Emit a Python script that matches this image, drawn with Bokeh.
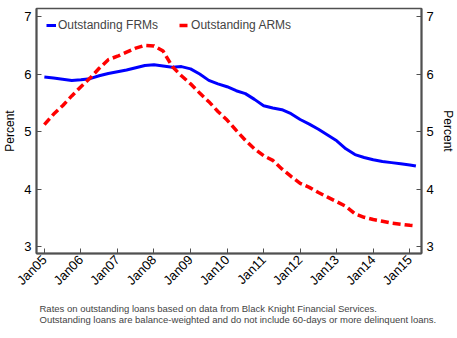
import math
from bokeh.plotting import figure
from bokeh.models import Range1d, LinearAxis, FixedTicker, Legend, LegendItem, Title
from bokeh.embed import file_html
from bokeh.resources import INLINE

# Quarterly observations (year-month)
dates = ["2005-01", "2005-04", "2005-07", "2005-10",
         "2006-01", "2006-04", "2006-07", "2006-10",
         "2007-01", "2007-04", "2007-07", "2007-10",
         "2008-01", "2008-04", "2008-07", "2008-10",
         "2009-01", "2009-04", "2009-07", "2009-10",
         "2010-01", "2010-04", "2010-07", "2010-10",
         "2011-01", "2011-04", "2011-07", "2011-10",
         "2012-01", "2012-04", "2012-07", "2012-10",
         "2013-01", "2013-04", "2013-07", "2013-10",
         "2014-01", "2014-04", "2014-07", "2014-10",
         "2015-01", "2015-03"]

frm = [5.95, 5.93, 5.91, 5.89,
       5.90, 5.92, 5.97, 6.01,
       6.04, 6.07, 6.11, 6.15,
       6.16, 6.14, 6.12, 6.13,
       6.09, 6.00, 5.89, 5.83,
       5.78, 5.71, 5.66, 5.56,
       5.45, 5.41, 5.38, 5.31,
       5.21, 5.13, 5.04, 4.94,
       4.84, 4.70, 4.60, 4.55,
       4.51, 4.48, 4.46, 4.44,
       4.42, 4.40]

arm = [5.12, 5.30, 5.45, 5.62,
       5.78, 5.93, 6.10, 6.25,
       6.31, 6.38, 6.45, 6.50,
       6.49, 6.40, 6.13, 5.97,
       5.83, 5.67, 5.52, 5.35,
       5.20, 5.02, 4.85, 4.70,
       4.58, 4.50, 4.35, 4.22,
       4.10, 4.03, 3.94, 3.86,
       3.78, 3.70, 3.57, 3.51,
       3.47, 3.44, 3.41, 3.39,
       3.37, 3.36]

tick_years = [2005, 2006, 2007, 2008, 2009, 2010, 2011, 2012, 2013, 2014, 2015]
tick_labels = ["Jan05", "Jan06", "Jan07", "Jan08", "Jan09", "Jan10",
               "Jan11", "Jan12", "Jan13", "Jan14", "Jan15"]
y_ticks = [3, 4, 5, 6, 7]

note1 = "Rates on outstanding loans based on data from Black Knight Financial Services."
note2 = "Outstanding loans are balance-weighted and do not include 60-days or more delinquent loans."

x = [int(d[:4]) + (int(d[5:]) - 1) / 12.0 for d in dates]

FONT = "Liberation Sans"
AXC = "#505050"

p = figure(width=457, height=338, output_backend="svg", toolbar_location=None,
           x_range=Range1d(2004.785, 2015.32), y_range=Range1d(2.88, 7.14),
           min_border_left=32, min_border_right=32, min_border_top=8,
           min_border_bottom=85)
p.grid.visible = False
p.outline_line_color = AXC
p.outline_line_width = 1.5
p.background_fill_color = "white"
p.border_fill_color = "white"

def style_axis(ax):
    ax.axis_line_color = AXC
    ax.axis_line_width = 2
    ax.major_tick_line_color = AXC
    ax.major_tick_line_width = 1
    ax.major_tick_in = 5
    ax.major_tick_out = 0
    ax.minor_tick_line_color = None
    ax.major_label_text_font = FONT
    ax.major_label_text_color = "black"
    ax.axis_label_text_font = FONT
    ax.axis_label_text_font_style = "normal"
    ax.axis_label_text_color = "black"

yl = p.yaxis[0]
yl.ticker = FixedTicker(ticks=y_ticks)
yl.axis_label = "Percent"
yl.axis_label_text_font_size = "12px"
yl.major_label_text_font_size = "13px"
yl.major_label_standoff = 5
yl.axis_label_standoff = 4
style_axis(yl)

yr = LinearAxis(ticker=FixedTicker(ticks=y_ticks), axis_label="Percent")
yr.axis_label_text_font_size = "12px"
yr.major_label_text_font_size = "13px"
yr.major_label_standoff = 5
yr.axis_label_standoff = 4
style_axis(yr)
p.add_layout(yr, "right")

xa = p.xaxis[0]
xa.ticker = FixedTicker(ticks=tick_years)
xa.major_label_overrides = {yr_: lab for yr_, lab in zip(tick_years, tick_labels)}
xa.major_label_orientation = math.pi / 4
xa.major_label_text_font_size = "13px"
xa.major_label_standoff = 4
style_axis(xa)

r1 = p.line(x, frm, line_color="#0000FF", line_width=3)
r2 = p.line(x, arm, line_color="#FF0000", line_width=3.5, line_dash="8 4")

legend = Legend(items=[LegendItem(label="Outstanding FRMs", renderers=[r1]),
                       LegendItem(label="Outstanding ARMs", renderers=[r2])],
                orientation="horizontal", location="top_left",
                border_line_alpha=0, background_fill_alpha=0,
                glyph_width=10, glyph_height=12, label_height=12,
                label_standoff=2, spacing=21, padding=6, margin=4,
                label_text_font_size="12px", label_text_font=FONT)
p.add_layout(legend)

note = Title(text=note1 + "\n" + note2, align="left", text_font_size="9.5px",
             text_font_style="normal", text_font=FONT, offset=3, standoff=9,
             text_line_height=1.0)
p.add_layout(note, "below")

open("out.html", "w").write(file_html(p, INLINE))
